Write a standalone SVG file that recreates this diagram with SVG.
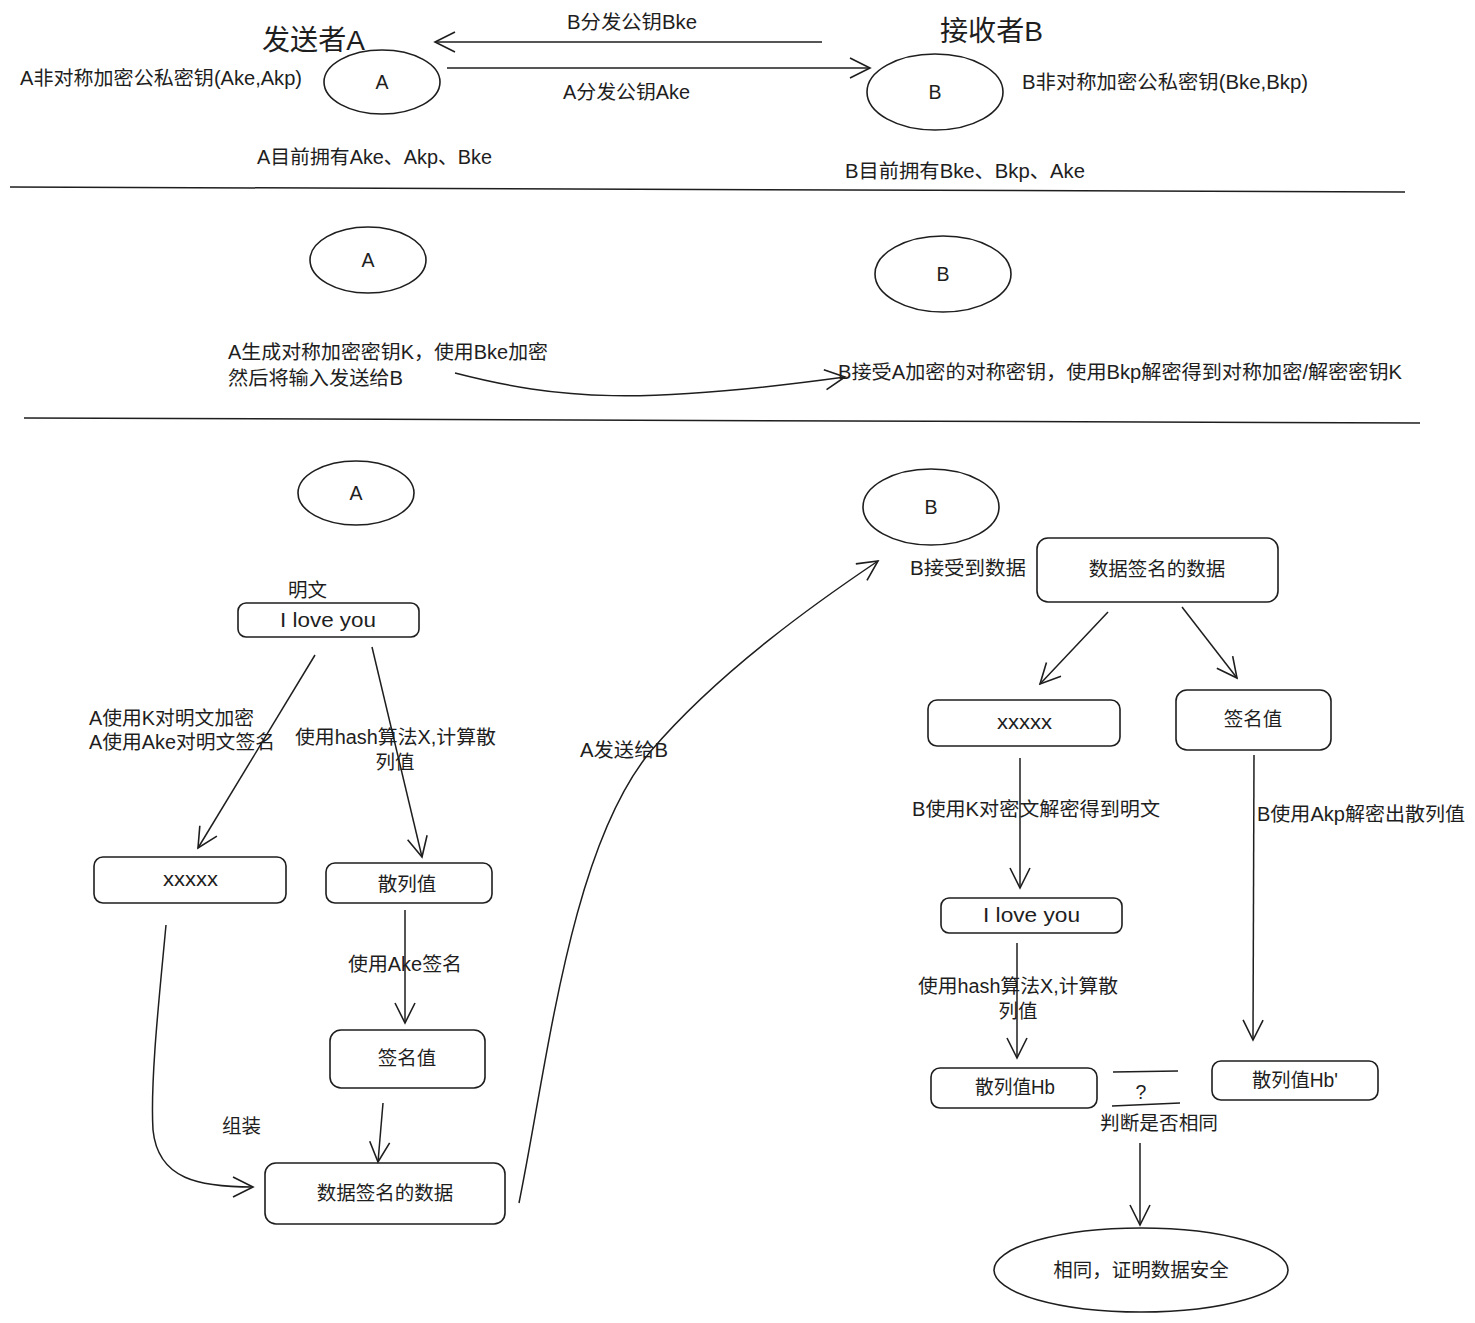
<svg xmlns="http://www.w3.org/2000/svg" width="1475" height="1323" viewBox="0 0 1475 1323">
<style>
text{font-family:"Liberation Sans","Noto Sans CJK SC",sans-serif;font-size:19.5px;fill:#1e1e1e}
.c{text-anchor:middle}
.t{font-size:28px}
.s{fill:none;stroke:#1e1e1e;stroke-width:1.5}
.n{fill:#fff;stroke:#1e1e1e;stroke-width:1.6}
</style>
<defs>
<marker id="ah" viewBox="0 0 24 24" refX="22" refY="12" markerWidth="24" markerHeight="24" markerUnits="userSpaceOnUse" orient="auto">
<path d="M2,2 L22,12 L2,22" fill="none" stroke="#1e1e1e" stroke-width="1.6"/>
</marker>
</defs>
<rect width="1475" height="1323" fill="#fff"/>

<g id="labels">
<text class="t" x="262" y="50" textLength="103" lengthAdjust="spacingAndGlyphs">发送者A</text>
<text class="t" x="940" y="41" textLength="103" lengthAdjust="spacingAndGlyphs">接收者B</text>
<text x="20" y="85" textLength="282" lengthAdjust="spacingAndGlyphs">A非对称加密公私密钥(Ake,Akp)</text>
<text x="1022" y="89" textLength="286" lengthAdjust="spacingAndGlyphs">B非对称加密公私密钥(Bke,Bkp)</text>
<text x="257" y="164" textLength="235" lengthAdjust="spacingAndGlyphs">A目前拥有Ake、Akp、Bke</text>
<text x="845" y="178" textLength="240" lengthAdjust="spacingAndGlyphs">B目前拥有Bke、Bkp、Ake</text>
<text x="567" y="29" textLength="130" lengthAdjust="spacingAndGlyphs">B分发公钥Bke</text>
<text x="563" y="99" textLength="127" lengthAdjust="spacingAndGlyphs">A分发公钥Ake</text>
<text x="228" y="359" textLength="320" lengthAdjust="spacingAndGlyphs">A生成对称加密密钥K，使用Bke加密</text>
<text x="228" y="385" textLength="175" lengthAdjust="spacingAndGlyphs">然后将输入发送给B</text>
<text x="838" y="379" textLength="564" lengthAdjust="spacingAndGlyphs">B接受A加密的对称密钥，使用Bkp解密得到对称加密/解密密钥K</text>
<text x="288" y="597">明文</text>
<text x="89" y="725" textLength="165" lengthAdjust="spacingAndGlyphs">A使用K对明文加密</text>
<text x="89" y="749" textLength="186" lengthAdjust="spacingAndGlyphs">A使用Ake对明文签名</text>
<text x="295" y="744" textLength="201" lengthAdjust="spacingAndGlyphs">使用hash算法X,计算散</text>
<text class="c" x="395" y="769">列值</text>
<text x="348" y="971" textLength="114" lengthAdjust="spacingAndGlyphs">使用Ake签名</text>
<text x="222" y="1133">组装</text>
<text x="580" y="757" textLength="88" lengthAdjust="spacingAndGlyphs">A发送给B</text>
<text x="910" y="575" textLength="116" lengthAdjust="spacingAndGlyphs">B接受到数据</text>
<text x="912" y="816" textLength="248" lengthAdjust="spacingAndGlyphs">B使用K对密文解密得到明文</text>
<text x="1257" y="821" textLength="208" lengthAdjust="spacingAndGlyphs">B使用Akp解密出散列值</text>
<text x="918" y="993" textLength="200" lengthAdjust="spacingAndGlyphs">使用hash算法X,计算散</text>
<text class="c" x="1018" y="1018">列值</text>
<text class="c" x="1141" y="1099">?</text>
<text x="1100" y="1130" textLength="118" lengthAdjust="spacingAndGlyphs">判断是否相同</text>
</g>

<g id="separators">
<path class="s" d="M10,187 L1405,192"/>
<path class="s" d="M24,418 L1420,423"/>
</g>

<g id="node-A1"><ellipse class="n" cx="382" cy="82" rx="58" ry="32"/><text class="c" x="382" y="89">A</text></g>
<g id="node-B1"><ellipse class="n" cx="935" cy="92" rx="68" ry="38"/><text class="c" x="935" y="99">B</text></g>
<g id="node-A2"><ellipse class="n" cx="368" cy="260" rx="58" ry="33"/><text class="c" x="368" y="267">A</text></g>
<g id="node-B2"><ellipse class="n" cx="943" cy="274" rx="68" ry="38"/><text class="c" x="943" y="281">B</text></g>
<g id="node-A3"><ellipse class="n" cx="356" cy="493" rx="58" ry="32"/><text class="c" x="356" y="500">A</text></g>
<g id="node-B3"><ellipse class="n" cx="931" cy="507" rx="68" ry="38"/><text class="c" x="931" y="514">B</text></g>

<g id="node-plain-A"><rect class="n" x="238" y="603" width="181" height="34" rx="8"/><text x="280" y="627" textLength="96" lengthAdjust="spacingAndGlyphs">I love you</text></g>
<g id="node-cipher-A"><rect class="n" x="94" y="857" width="192" height="46" rx="9"/><text x="163" y="886" textLength="55" lengthAdjust="spacingAndGlyphs">xxxxx</text></g>
<g id="node-hash-A"><rect class="n" x="326" y="863" width="166" height="40" rx="9"/><text class="c" x="407" y="891">散列值</text></g>
<g id="node-sig-A"><rect class="n" x="330" y="1030" width="155" height="58" rx="11"/><text class="c" x="407" y="1065">签名值</text></g>
<g id="node-data-A"><rect class="n" x="265" y="1163" width="240" height="61" rx="11"/><text class="c" x="385" y="1200">数据签名的数据</text></g>

<g id="node-data-B"><rect class="n" x="1037" y="538" width="241" height="64" rx="11"/><text class="c" x="1157" y="576">数据签名的数据</text></g>
<g id="node-cipher-B"><rect class="n" x="928" y="700" width="192" height="46" rx="9"/><text x="997" y="729" textLength="55" lengthAdjust="spacingAndGlyphs">xxxxx</text></g>
<g id="node-sig-B"><rect class="n" x="1176" y="690" width="155" height="60" rx="11"/><text class="c" x="1253" y="726">签名值</text></g>
<g id="node-plain-B"><rect class="n" x="941" y="898" width="181" height="35" rx="8"/><text x="983" y="922" textLength="97" lengthAdjust="spacingAndGlyphs">I love you</text></g>
<g id="node-hb"><rect class="n" x="931" y="1068" width="166" height="40" rx="9"/><text x="975" y="1094" textLength="80" lengthAdjust="spacingAndGlyphs">散列值Hb</text></g>
<g id="node-hb2"><rect class="n" x="1212" y="1061" width="166" height="39" rx="9"/><text x="1252" y="1087" textLength="86" lengthAdjust="spacingAndGlyphs">散列值Hb'</text></g>
<g id="node-result"><ellipse class="n" cx="1141" cy="1270" rx="147" ry="42"/><text class="c" x="1141" y="1277">相同，证明数据安全</text></g>

<g id="connectors">
<path class="s" d="M822,42 L435,42" marker-end="url(#ah)"/>
<path class="s" d="M447,68 L870,68" marker-end="url(#ah)"/>
<path class="s" d="M455,373 C560,400 640,405 845,377" marker-end="url(#ah)"/>
<path class="s" d="M315,655 L198,848" marker-end="url(#ah)"/>
<path class="s" d="M372,647 L422,857" marker-end="url(#ah)"/>
<path class="s" d="M405,910 L405,1023" marker-end="url(#ah)"/>
<path class="s" d="M383,1103 L378,1162" marker-end="url(#ah)"/>
<path class="s" d="M166,925 C160,990 150,1080 153,1130 C158,1180 200,1187 253,1187" marker-end="url(#ah)"/>
<path class="s" d="M519,1203 C548,1060 570,850 650,752 C720,670 820,600 878,561" marker-end="url(#ah)"/>
<path class="s" d="M1108,612 L1040,684" marker-end="url(#ah)"/>
<path class="s" d="M1182,607 L1237,678" marker-end="url(#ah)"/>
<path class="s" d="M1020,758 L1020,888" marker-end="url(#ah)"/>
<path class="s" d="M1254,755 L1253,1040" marker-end="url(#ah)"/>
<path class="s" d="M1017,943 L1017,1058" marker-end="url(#ah)"/>
<path class="s" d="M1113,1072 L1178,1071"/>
<path class="s" d="M1112,1106 L1180,1103"/>
<path class="s" d="M1140,1143 L1140,1225" marker-end="url(#ah)"/>
</g>
</svg>
